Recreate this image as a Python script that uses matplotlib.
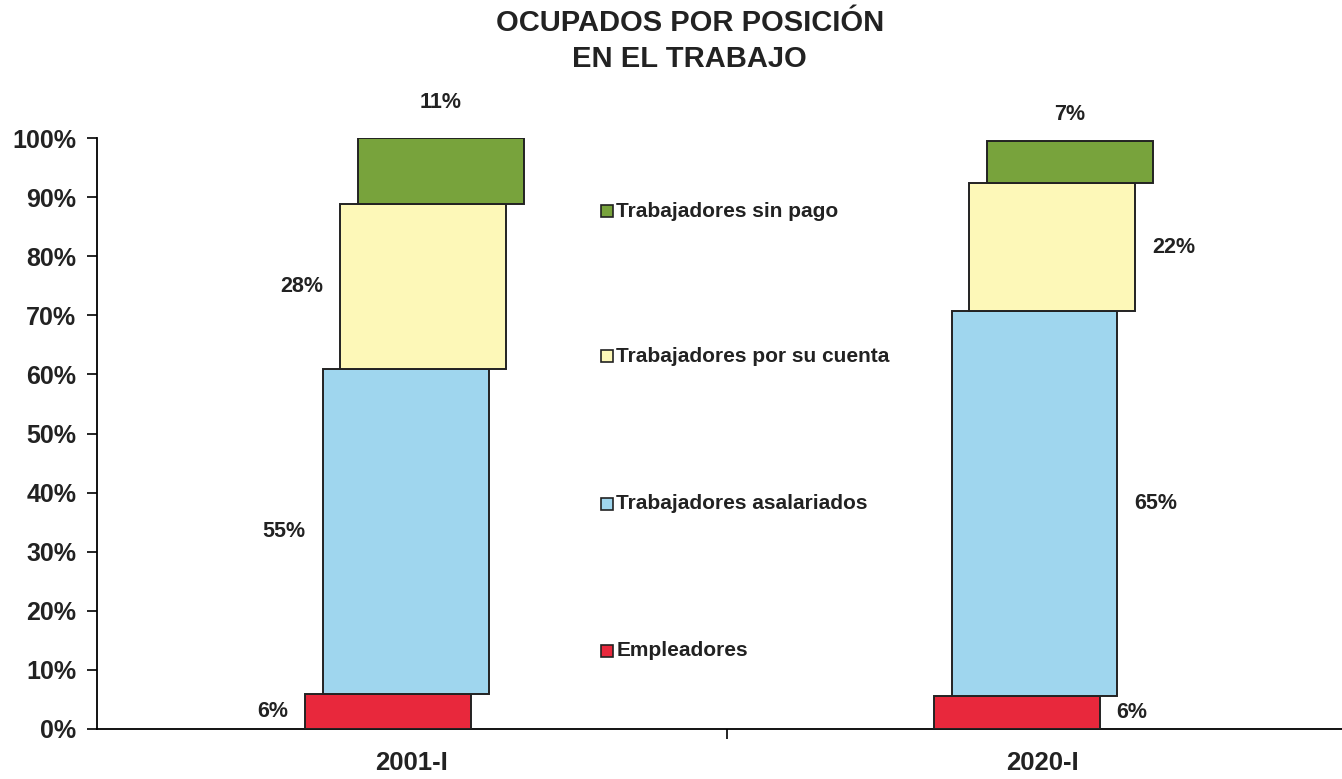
import matplotlib.pyplot as plt
import numpy as np

plt.rcParams['font.family'] = ['Liberation Sans', 'DejaVu Sans']

# --- data ---
periodos = ["2001-I", "2020-I"]
categorias = ["Empleadores", "Trabajadores asalariados",
              "Trabajadores por su cuenta", "Trabajadores sin pago"]
colores = ["#e8283c", "#9fd6ee", "#fdf8b8", "#78a33c"]

val_2001 = [5.9, 55.0, 27.9, 11.2]
val_2020 = [5.5, 65.2, 21.7, 7.1]
etq_2001 = ["6%", "55%", "28%", "11%"]
etq_2020 = ["6%", "65%", "22%", "7%"]

valores = [val_2001, val_2020]
etiquetas = [etq_2001, etq_2020]

fig = plt.figure(figsize=(13.42, 7.79), dpi=100)
ax = fig.add_axes([97 / 1342, 50 / 779, 1260 / 1342, 591 / 779])

ancho = 0.263
paso = 0.028
desplaz = [-0.038, -0.040]

for i, vals in enumerate(valores):
    base = 0
    for j, v in enumerate(vals):
        xc = i + desplaz[i] + j * paso
        ax.bar(xc, v, bottom=base, width=ancho, color=colores[j],
               edgecolor="#222222", linewidth=1.4, zorder=3)
        base += v

# --- etiquetas de datos ---
tfont = dict(fontsize=15.5, fontweight="bold", color="#222222")
# 2001-I: a la izquierda, la de arriba encima
b = np.cumsum([0] + val_2001)
for j in range(3):
    xl = 0 + desplaz[0] + j * paso - ancho / 2 - 0.027
    ax.text(xl, b[j] + val_2001[j] / 2, etq_2001[j], ha="right", va="center", **tfont)
ax.text(0 + desplaz[0] + 3 * paso, 106, etq_2001[3], ha="center", va="center", **tfont)
# 2020-I: a la derecha, la de arriba encima
b = np.cumsum([0] + val_2020)
for j in range(3):
    xl = 1 + desplaz[1] + j * paso + ancho / 2 + 0.027
    ax.text(xl, b[j] + val_2020[j] / 2, etq_2020[j], ha="left", va="center", **tfont)
ax.text(1 + desplaz[1] + 3 * paso, 104, etq_2020[3], ha="center", va="center", **tfont)

# --- leyenda ---
ley_y = [13.2, 38.1, 63.1, 87.6]
for j, cat in enumerate(categorias):
    ax.plot(0.309, ley_y[j], marker="s", markersize=9, color=colores[j],
            markeredgecolor="#222222", markeredgewidth=1.2, clip_on=False)
    ax.text(0.3245, ley_y[j], cat, ha="left", va="center", fontsize=15,
            fontweight="bold", color="#222222")

# --- ejes ---
ax.set_xlim(-0.5, 1.5)
ax.set_ylim(0, 100)
ax.set_yticks(np.arange(0, 101, 10))
ax.set_yticklabels([f"{v}%" for v in range(0, 101, 10)], fontsize=18,
                   fontweight="bold", color="#222222")
ax.set_xticks([0, 1])
ax.set_xticklabels(periodos, fontsize=18.5, fontweight="bold", color="#222222")
ax.tick_params(axis="x", which="major", length=0, pad=16)
ax.set_xticks([0.5], minor=True)
ax.tick_params(axis="x", which="minor", length=7, width=1.2, direction="out")
ax.tick_params(axis="y", length=7, width=1.2, pad=8)
for s in ["top", "right"]:
    ax.spines[s].set_visible(False)
ax.spines["left"].set_linewidth(1.3)
ax.spines["bottom"].set_linewidth(1.3)

fig.text(0.514, 0.947, "OCUPADOS POR POSICIÓN\nEN EL TRABAJO", ha="center",
         va="center", fontsize=21, fontweight="bold", color="#222222",
         linespacing=1.38)

fig.savefig("out.png", dpi=100, facecolor="white")
